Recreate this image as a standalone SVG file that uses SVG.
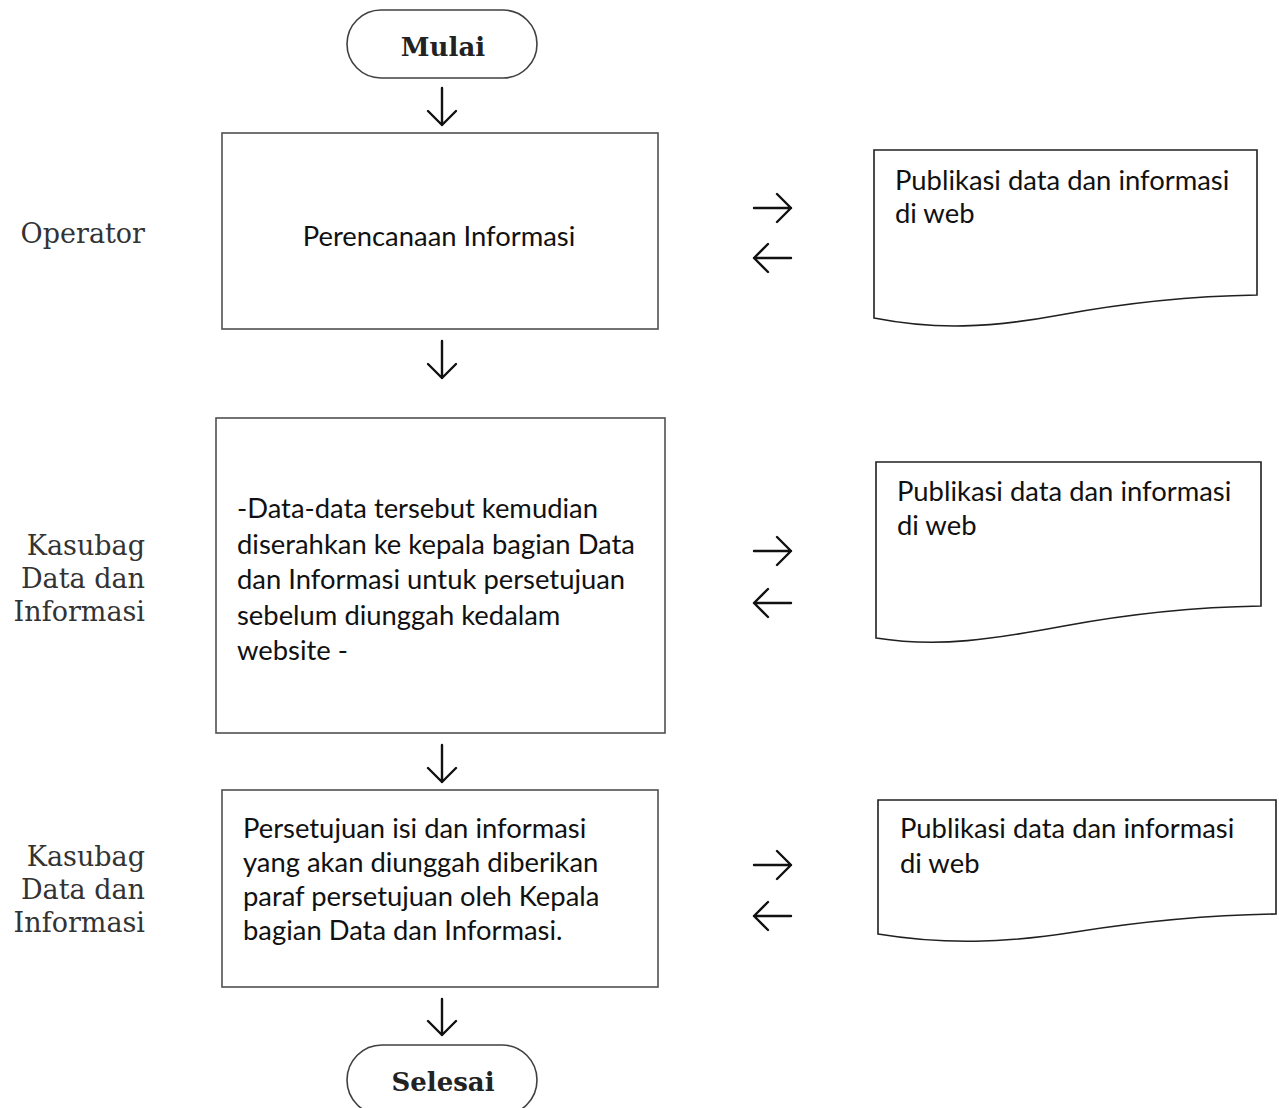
<svg xmlns="http://www.w3.org/2000/svg" width="1279" height="1108" viewBox="0 0 1279 1108">
<style>
.term{fill:#fff;stroke:#404040;stroke-width:1.6}
.box{fill:#fff;stroke:#505050;stroke-width:1.6}
.doc{fill:#fff;stroke:#202020;stroke-width:1.6}
.arr{fill:none;stroke:#111;stroke-width:2.4;stroke-linecap:round;stroke-linejoin:round}
.tt{font-family:"DejaVu Serif","Liberation Serif",serif;font-weight:bold;font-size:26px;fill:#222;text-anchor:middle}
.lbl{font-family:"DejaVu Serif","Liberation Serif",serif;font-size:27px;fill:#333;text-anchor:end}
.body{font-family:Lato,"Liberation Sans",sans-serif;font-size:27.4px;fill:#111}
</style>
<rect width="1279" height="1108" fill="#fff"/>
<g id="label-operator"><text class="lbl" x="145" y="243">Operator</text></g>
<g id="label-kasubag1"><text class="lbl" x="145" y="555">Kasubag</text><text class="lbl" x="145" y="588">Data dan</text><text class="lbl" x="145" y="621">Informasi</text></g>
<g id="label-kasubag2"><text class="lbl" x="145" y="866">Kasubag</text><text class="lbl" x="145" y="899">Data dan</text><text class="lbl" x="145" y="932">Informasi</text></g>

<g id="mulai"><rect class="term" x="347" y="10" width="190" height="68" rx="34"/><text class="tt" x="443" y="56">Mulai</text></g>
<g id="perencanaan"><rect class="box" x="222" y="133" width="436" height="196"/><text class="body" x="439" y="246" text-anchor="middle">Perencanaan Informasi</text></g>
<g id="penyerahan"><rect class="box" x="216" y="418" width="449" height="315"/>
<text class="body" x="237" y="518">-Data-data tersebut kemudian</text>
<text class="body" x="237" y="554">diserahkan ke kepala bagian Data</text>
<text class="body" x="237" y="589">dan Informasi untuk persetujuan</text>
<text class="body" x="237" y="625">sebelum diunggah kedalam</text>
<text class="body" x="237" y="660">website -</text></g>
<g id="persetujuan"><rect class="box" x="222" y="790" width="436" height="197"/>
<text class="body" x="243" y="838">Persetujuan isi dan informasi</text>
<text class="body" x="243" y="872">yang akan diunggah diberikan</text>
<text class="body" x="243" y="906">paraf persetujuan oleh Kepala</text>
<text class="body" x="243" y="940">bagian Data dan Informasi.</text></g>
<g id="selesai"><rect class="term" x="347" y="1045" width="190" height="70" rx="35"/><text class="tt" x="443" y="1091">Selesai</text></g>

<g id="doc1"><path class="doc" d="M874,150 H1257 V295 C1195,296 1130,302 1060,315 C990,328 935,330 874,318 Z"/>
<text class="body" x="895" y="190">Publikasi data dan informasi</text><text class="body" x="895" y="223">di web</text></g>
<g id="doc2"><path class="doc" d="M876,462 H1261 V606 C1199,607 1134,613 1064,626 C994,639 939,648 876,638 Z"/>
<text class="body" x="897" y="501">Publikasi data dan informasi</text><text class="body" x="897" y="535">di web</text></g>
<g id="doc3"><path class="doc" d="M878,800 H1276 V914 C1210,915 1145,921 1075,932 C1005,943 945,945 878,934 Z"/>
<text class="body" x="900" y="838">Publikasi data dan informasi</text><text class="body" x="900" y="873">di web</text></g>

<g id="connectors">
<path class="arr" d="M442,88 V125 M428,111 L442,125 L456,111"/>
<path class="arr" d="M442,341 V378 M428,364 L442,378 L456,364"/>
<path class="arr" d="M442,745 V782 M428,768 L442,782 L456,768"/>
<path class="arr" d="M442,999 V1035 M428,1021 L442,1035 L456,1021"/>
<path class="arr" d="M754,208 H791 M777,194 L791,208 L777,222"/>
<path class="arr" d="M754,258 H791 M768,244 L754,258 L768,272"/>
<path class="arr" d="M754,551 H791 M777,537 L791,551 L777,565"/>
<path class="arr" d="M754,603 H791 M768,589 L754,603 L768,617"/>
<path class="arr" d="M754,865 H791 M777,851 L791,865 L777,879"/>
<path class="arr" d="M754,916 H791 M768,902 L754,916 L768,930"/>
</g>
</svg>
